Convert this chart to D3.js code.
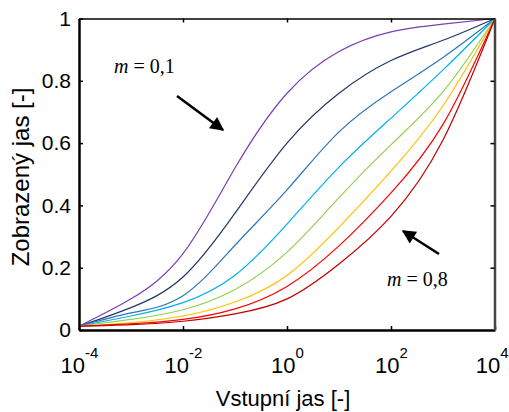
<!DOCTYPE html>
<html><head><meta charset="utf-8">
<script src="https://cdn.jsdelivr.net/npm/d3@7"></script>
<style>body{margin:0;background:#fff}svg{display:block}</style>
</head><body><svg id="c" width="509" height="412"></svg>
<script>
// ---- data ----
const inputLevels = [1e-4, 1e-3, 1e-2, 1e-1, 1, 1e1, 1e2, 1e3, 1e4];
const mValues = [0.1, 0.2, 0.3, 0.4, 0.5, 0.6, 0.7, 0.8];
const seriesM01 = [0.012, 0.100, 0.245, 0.520, 0.760, 0.894, 0.957, 0.982, 1.0];
const seriesM02 = [0.012, 0.072, 0.170, 0.375, 0.600, 0.760, 0.865, 0.930, 1.0];
const seriesM03 = [0.012, 0.055, 0.110, 0.272, 0.450, 0.636, 0.765, 0.875, 1.0];
const seriesM04 = [0.012, 0.045, 0.088, 0.176, 0.340, 0.523, 0.680, 0.835, 1.0];
const seriesM05 = [0.012, 0.034, 0.065, 0.130, 0.250, 0.425, 0.595, 0.765, 1.0];
const seriesM06 = [0.012, 0.024, 0.045, 0.090, 0.175, 0.330, 0.510, 0.720, 1.0];
const seriesM07 = [0.012, 0.020, 0.034, 0.068, 0.140, 0.270, 0.440, 0.660, 1.0];
const seriesM08 = [0.012, 0.017, 0.028, 0.052, 0.100, 0.212, 0.365, 0.610, 1.0];
const allSeries = [seriesM01, seriesM02, seriesM03, seriesM04, seriesM05, seriesM06, seriesM07, seriesM08];
const seriesColors = ["#7b3fb5", "#1f3864", "#2e75b6", "#00b0f0", "#92d050", "#ffc000", "#ff0000", "#c00000"];
const xTickValues = [1e-4, 1e-2, 1, 1e2, 1e4];
const xTickExponents = ["-4", "-2", "0", "2", "4"];
const yTickValues = [0, 0.2, 0.4, 0.6, 0.8, 1];
const yTickLabels = ["0", "0.2", "0.4", "0.6", "0.8", "1"];
const xTitle = "Vstupní jas [-]";
const yTitle = "Zobrazený jas  [-]";

// ---- drawing ----
const svg = d3.select("#c");
const L = 79, R = 495, T = 18.5, B = 330;
const x = d3.scaleLog().domain([1e-4, 1e4]).range([L, R]);
const y = d3.scaleLinear().domain([0, 1]).range([B, T]);

const line = d3.line()
  .x(d => x(d[0])).y(d => y(d[1]))
  .curve(d3.curveNatural);

svg.append("g").selectAll("path")
  .data(allSeries)
  .join("path")
  .attr("d", s => line(s.map((v, i) => [inputLevels[i], v])))
  .attr("fill", "none")
  .attr("stroke", (s, i) => seriesColors[i])
  .attr("stroke-width", 1.2);

// bottom axis
const gx = svg.append("g").attr("transform", `translate(0,${B})`)
  .call(d3.axisBottom(x).tickValues(xTickValues).tickSizeInner(-4).tickSizeOuter(0).tickFormat(() => ""));
gx.select(".domain").attr("stroke", "#000").attr("stroke-width", 2.5);
gx.selectAll(".tick line").attr("stroke", "#000").attr("stroke-width", 1.5);
gx.selectAll(".tick text").each(function(d, i) {
  const last = i === xTickExponents.length - 1;
  const t = d3.select(this).attr("y", 43).attr("dy", null)
    .attr("x", last ? 13 : 0).attr("text-anchor", last ? "end" : "middle")
    .attr("font-family", "'Liberation Sans', Arial, sans-serif").attr("fill", "#000");
  t.append("tspan").attr("font-size", 22).text("10");
  t.append("tspan").attr("font-size", 15).attr("dy", -15).text(xTickExponents[i]);
});

// left axis
const gy = svg.append("g").attr("transform", `translate(${L},0)`)
  .call(d3.axisLeft(y).tickValues(yTickValues).tickSizeInner(-4).tickSizeOuter(0).tickPadding(8)
    .tickFormat((d, i) => yTickLabels[i]));
gy.select(".domain").attr("stroke", "#000").attr("stroke-width", 2.5);
gy.selectAll(".tick line").attr("stroke", "#000").attr("stroke-width", 1.5);
gy.selectAll(".tick text").attr("font-size", 21)
  .attr("font-family", "'Liberation Sans', Arial, sans-serif").attr("fill", "#000");

// top axis (ticks only)
const gt = svg.append("g").attr("transform", `translate(0,${T})`)
  .call(d3.axisTop(x).tickValues(xTickValues.slice(1, -1)).tickSizeInner(-4).tickSizeOuter(0).tickFormat(() => ""));
gt.select(".domain").attr("stroke", "#000").attr("stroke-width", 1.6);
gt.selectAll(".tick line").attr("stroke", "#000").attr("stroke-width", 1.5);

// right axis (ticks only)
const gr = svg.append("g").attr("transform", `translate(${R - 0.5},0)`)
  .call(d3.axisRight(y).tickValues(yTickValues.slice(1, -1)).tickSizeInner(-4).tickSizeOuter(0).tickFormat(() => ""));
gr.select(".domain").attr("stroke", "#444").attr("stroke-width", 2.5);
gr.selectAll(".tick line").attr("stroke", "#000").attr("stroke-width", 1.5);

// titles
svg.append("text").attr("x", 283).attr("y", 406).attr("text-anchor", "middle")
  .attr("font-family", "'Liberation Sans', Arial, sans-serif").attr("font-size", 22).text(xTitle);
svg.append("text").attr("transform", "translate(29,177) rotate(-90)").attr("text-anchor", "middle")
  .attr("font-family", "'Liberation Sans', Arial, sans-serif").attr("font-size", 24).text(yTitle);

// annotations
const defs = svg.append("defs");
defs.append("marker").attr("id", "ah").attr("viewBox", "0 0 10 10").attr("refX", 9).attr("refY", 5)
  .attr("markerWidth", 6.5).attr("markerHeight", 5.5).attr("markerUnits", "strokeWidth").attr("orient", "auto")
  .append("path").attr("d", "M0,0 L10,5 L0,10 z").attr("fill", "#000");

function annot(tx, ty, label) {
  const t = svg.append("text").attr("x", tx).attr("y", ty)
    .attr("font-family", "'Liberation Serif', 'Times New Roman', serif").attr("font-size", 20);
  t.append("tspan").attr("font-style", "italic").text("m");
  t.append("tspan").text(" = " + label);
}
annot(114, 73, "0,1");
annot(387, 286, "0,8");
svg.append("line").attr("x1", 177).attr("y1", 96).attr("x2", 223).attr("y2", 130)
  .attr("stroke", "#000").attr("stroke-width", 2.5).attr("marker-end", "url(#ah)");
svg.append("line").attr("x1", 439).attr("y1", 254).attr("x2", 403).attr("y2", 231)
  .attr("stroke", "#000").attr("stroke-width", 2.5).attr("marker-end", "url(#ah)");
</script></body></html>
